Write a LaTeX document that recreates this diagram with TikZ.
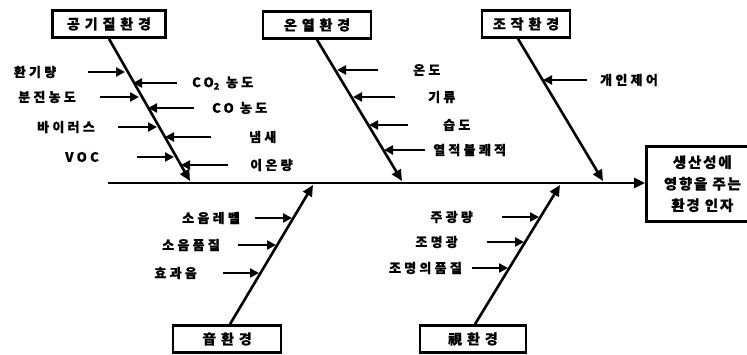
\documentclass[tikz,border=0pt]{standalone}
\usepackage{fontspec}
\setmainfont{Noto Sans CJK KR}
\newfontfamily\krfont[LetterSpace=25,FakeBold=0.6]{Noto Sans CJK KR}
\newfontfamily\boxfont[LetterSpace=35,FakeBold=0.6]{Noto Sans CJK KR}
\newfontfamily\resfont[LetterSpace=12,FakeBold=0.6]{Noto Sans CJK KR}
\usetikzlibrary{arrows.meta}
\begin{document}
\begin{tikzpicture}[x=1pt,y=-1pt,
  lab/.style={font=\krfont\bfseries\fontsize{13}{15}\selectfont, inner sep=0pt},
  catbox/.style={draw, line width=2.6pt, font=\boxfont\bfseries\fontsize{14}{16}\selectfont, inner sep=0pt, minimum height=27pt},
  resbox/.style={draw, line width=2.6pt, font=\resfont\bfseries\fontsize{14.5}{21.5}\selectfont, align=center, inner sep=0pt, minimum width=112pt, minimum height=75pt},
  bone/.style={line width=2.6pt, -{Triangle[length=11pt,width=10pt]}},
  sub/.style={line width=2.4pt, -{Triangle[length=9pt,width=9pt]}},
]
\useasboundingbox (0,0) rectangle (747,355);
\clip (0,0) rectangle (747,355);

% category boxes
\node[catbox, minimum width=113pt] (air) at (109,24) {공기질환경};
\node[catbox, minimum width=108pt] (therm) at (317,25) {온열환경};
\node[catbox, minimum width=88pt] (ctrl) at (526,24) {조작환경};
\node[catbox, minimum width=108pt] (snd) at (227,339) {音환경};
\node[catbox, minimum width=106pt] (vis) at (473,339) {視환경};
\node[resbox, anchor=north west] (res) at (645,145) {생산성에\\영향을 주는\\환경 인자};

% spine
\coordinate (s0) at (108,183);
\draw[bone] (s0) -- (s0 -| res.west);

% bones
\coordinate (b1) at (190,181);
\coordinate (b2) at (402,181);
\coordinate (b3) at (603,181);
\coordinate (b4) at (313,185);
\coordinate (b5) at (560,185);
\draw[bone] (air.south) -- (b1);
\draw[bone] (therm.south) -- (b2);
\draw[bone] ([xshift=-8pt]ctrl.south) -- (b3);
\draw[bone] ([xshift=3pt]snd.north) -- (b4);
\draw[bone] ([xshift=2pt]vis.north) -- (b5);

% air quality: left side
\node[lab] (a1) at (35,72) {환기량};
\node[lab] (a2) at (47,97) {분진농도};
\node[lab] (a3) at (66,127) {바이러스};
\node[lab] (a4) at (82,157) {VOC};
\coordinate (a1s) at (88,72);  \coordinate (a1e) at (125,72);
\coordinate (a2s) at (100,97); \coordinate (a2e) at (139,97);
\coordinate (a3s) at (118,127);\coordinate (a3e) at (157,127);
\coordinate (a4s) at (137,157);\coordinate (a4e) at (174,157);
\draw[sub] (a1s) -- (a1e);
\draw[sub] (a2s) -- (a2e);
\draw[sub] (a3s) -- (a3e);
\draw[sub] (a4s) -- (a4e);

% air quality: right side
\node[lab, anchor=west] (a5) at (192,83) {CO\textsubscript{2} 농도};
\node[lab, anchor=west] (a6) at (212,108) {CO 농도};
\node[lab, anchor=west] (a7) at (249,137) {냄새};
\node[lab, anchor=west] (a8) at (250,165) {이온량};
\coordinate (a5s) at (177,83);  \coordinate (a5e) at (133,83);
\coordinate (a6s) at (194,108); \coordinate (a6e) at (148,108);
\coordinate (a7s) at (211,137); \coordinate (a7e) at (165,137);
\coordinate (a8s) at (228,165); \coordinate (a8e) at (181,165);
\draw[sub] (a5s) -- (a5e);
\draw[sub] (a6s) -- (a6e);
\draw[sub] (a7s) -- (a7e);
\draw[sub] (a8s) -- (a8e);

% thermal
\node[lab, anchor=west] (t1) at (413,70) {온도};
\node[lab, anchor=west] (t2) at (428,97) {기류};
\node[lab, anchor=west] (t3) at (443,125) {습도};
\node[lab, anchor=west] (t4) at (433,150) {열적불쾌적};
\coordinate (t1s) at (378,70);  \coordinate (t1e) at (337,70);
\coordinate (t2s) at (395,97);  \coordinate (t2e) at (353,97);
\coordinate (t3s) at (408,125); \coordinate (t3e) at (369,125);
\coordinate (t4s) at (425,150); \coordinate (t4e) at (384,150);
\draw[sub] (t1s) -- (t1e);
\draw[sub] (t2s) -- (t2e);
\draw[sub] (t3s) -- (t3e);
\draw[sub] (t4s) -- (t4e);

% control
\node[lab, anchor=west] (c1) at (600,80) {개인제어};
\coordinate (c1s) at (587,80); \coordinate (c1e) at (543,80);
\draw[sub] (c1s) -- (c1e);

% sound
\node[lab, anchor=east] (n1) at (240,218) {소음레벨};
\node[lab, anchor=east] (n2) at (220,245) {소음품질};
\node[lab, anchor=east] (n3) at (197,273) {효과음};
\coordinate (n1s) at (255,218); \coordinate (n1e) at (292,218);
\coordinate (n2s) at (238,245); \coordinate (n2e) at (276,245);
\coordinate (n3s) at (223,273); \coordinate (n3e) at (259,273);
\draw[sub] (n1s) -- (n1e);
\draw[sub] (n2s) -- (n2e);
\draw[sub] (n3s) -- (n3e);

% visual
\node[lab, anchor=east] (v1) at (473,217) {주광량};
\node[lab, anchor=east] (v2) at (458,242) {조명광};
\node[lab, anchor=east] (v3) at (462,268) {조명의품질};
\coordinate (v1s) at (502,217); \coordinate (v1e) at (539,217);
\coordinate (v2s) at (487,242); \coordinate (v2e) at (524,242);
\coordinate (v3s) at (472,268); \coordinate (v3e) at (508,268);
\draw[sub] (v1s) -- (v1e);
\draw[sub] (v2s) -- (v2e);
\draw[sub] (v3s) -- (v3e);
\end{tikzpicture}
\end{document}
